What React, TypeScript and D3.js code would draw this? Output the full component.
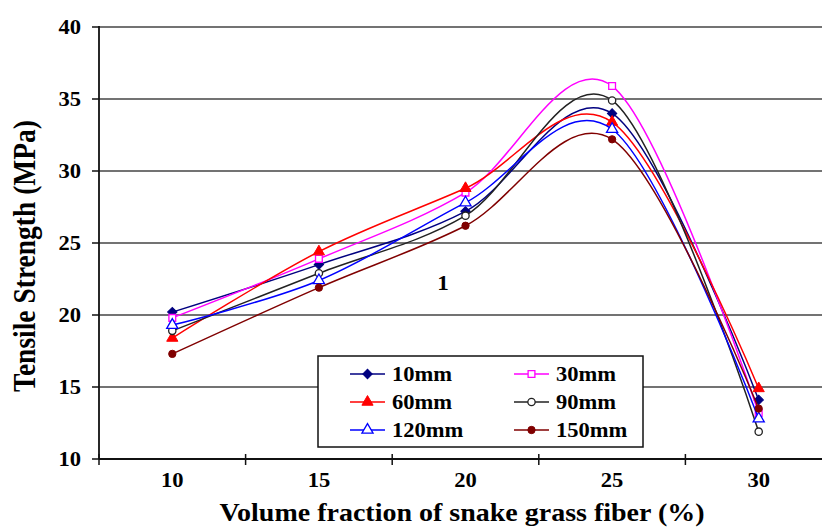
import * as d3 from 'd3'

// volume fraction (%) categories
const fractions = ['10', '15', '20', '25', '30']
const yTicks = [10, 15, 20, 25, 30, 35, 40]

// tensile strength (MPa) per fiber length
const s10mm = [20.2, 23.5, 27.2, 34.0, 14.1]
const s30mm = [19.8, 23.9, 28.5, 35.9, 13.2]
const s60mm = [18.4, 24.4, 28.8, 33.4, 14.9]
const s90mm = [18.9, 22.9, 26.9, 34.9, 11.9]
const s120mm = [19.3, 22.4, 27.8, 32.9, 12.8]
const s150mm = [17.3, 21.9, 26.2, 32.2, 13.5]

const series = [
    {name: '10mm', values: s10mm, color: '#000080', shape: 'diamond', fill: true},
    {name: '30mm', values: s30mm, color: '#ff00ff', shape: 'square', fill: false},
    {name: '60mm', values: s60mm, color: '#ff0000', shape: 'triangle', fill: true},
    {name: '90mm', values: s90mm, color: '#222222', shape: 'circle', fill: false},
    {name: '120mm', values: s120mm, color: '#0000ff', shape: 'triangle', fill: false},
    {name: '150mm', values: s150mm, color: '#800000', shape: 'circle', fill: true},
]

const W = 822, H = 529
const left = 99, top = 27, bottom = 459, band = 146.6
const font = '"Liberation Serif", "Times New Roman", serif'
const sx = 1.1 // the source picture is a little stretched sideways

const x = d3.scaleBand().domain(fractions).range([left, left + band * fractions.length])
const y = d3.scaleLinear().domain([10, 40]).range([bottom, top])

const symbolPath = (shape: string) => {
    const types: any = {
        diamond: [d3.symbolSquare, 44],
        square: [d3.symbolSquare, 46],
        triangle: [d3.symbolTriangle, 54],
        circle: [d3.symbolCircle, 42],
    }
    const [t, size] = types[shape]
    return d3.symbol(t, size)()
}

function Marker(props: any) {
    const s = props.s
    const rot = s.shape === 'diamond' ? ' rotate(45)' : ''
    return <path d={symbolPath(s.shape) || ''} transform={`translate(${props.x},${props.y})${rot}`}
        fill={s.fill ? s.color : 'white'} stroke={s.color} strokeWidth={s.fill ? 1 : 1.3}/>
}

// text widened by sx around its anchor point
function T(props: any) {
    const {x: tx, y: ty, size, anchor, children} = props
    return <text transform={`translate(${tx},${ty}) scale(${sx},1)`} textAnchor={anchor || 'start'}
        dy={props.dy} fontSize={size}>{children}</text>
}

export default function App() {
    const line = d3.line<number>()
        .x((d, i) => x(fractions[i])! + x.bandwidth() / 2)
        .y(d => y(d))
        .curve(d3.curveCardinal.tension(0))

    const legendRows = [[series[0], series[1]], [series[2], series[3]], [series[4], series[5]]]

    return (
        <svg width={W} height={H} style={{position: 'absolute', left: 0, top: 0, background: 'white'}}
            fontFamily={font} fontWeight="bold">
            {/* gridlines */}
            {yTicks.filter(t => t > 10).map(t =>
                <line key={t} x1={left} x2={W} y1={y(t)} y2={y(t)} stroke="#444" strokeWidth={1.4}/>)}
            {/* y axis */}
            <line x1={left} x2={left} y1={top - 1} y2={bottom} stroke="#111" strokeWidth={1.8}/>
            {yTicks.map(t => <g key={t}>
                <line x1={left - 7} x2={left} y1={y(t)} y2={y(t)} stroke="#111" strokeWidth={1.5}/>
                <T x={81} y={y(t)} dy="0.35em" anchor="end" size={20.5}>{t}</T>
            </g>)}
            {/* x axis */}
            <line x1={left} x2={W} y1={bottom} y2={bottom} stroke="#111" strokeWidth={2}/>
            {fractions.map(f => <g key={f}>
                <line x1={x(f)!} x2={x(f)!} y1={bottom - 5} y2={bottom + 6} stroke="#111" strokeWidth={1.5}/>
                <T x={x(f)! + x.bandwidth() / 2} y={487} anchor="middle" size={20.5}>{f}</T>
            </g>)}
            <text transform={`translate(462,521) scale(1.12,1)`} textAnchor="middle" fontSize={25}>
                Volume fraction of snake grass fiber (%)</text>
            <text transform="translate(35,256) rotate(-90) scale(1,1.15)" textAnchor="middle" fontSize={27.5}>
                Tensile Strength (MPa)</text>

            {/* series */}
            {series.map(s => <g key={s.name}>
                <path d={line(s.values) || ''} fill="none" stroke={s.color} strokeWidth={1.5}/>
                {s.values.map((v, i) => <Marker key={i} s={s} x={x(fractions[i])! + x.bandwidth() / 2} y={y(v)}/>)}
            </g>)}

            <T x={443} y={290} anchor="middle" size={21}>1</T>

            {/* legend */}
            <rect x={318} y={356} width={325} height={91} fill="white" stroke="#111" strokeWidth={1.5}/>
            {legendRows.map((row, r) => row.map((s, c) => {
                const lx = c === 0 ? 350 : 514
                const ly = 374 + r * 28
                return <g key={s.name}>
                    <line x1={lx} x2={lx + 35} y1={ly} y2={ly} stroke={s.color} strokeWidth={1.5}/>
                    <Marker s={s} x={lx + 17.5} y={ly}/>
                    <T x={lx + 42} y={ly} dy="0.35em" size={20.5}>{s.name}</T>
                </g>
            }))}
        </svg>
    )
}
